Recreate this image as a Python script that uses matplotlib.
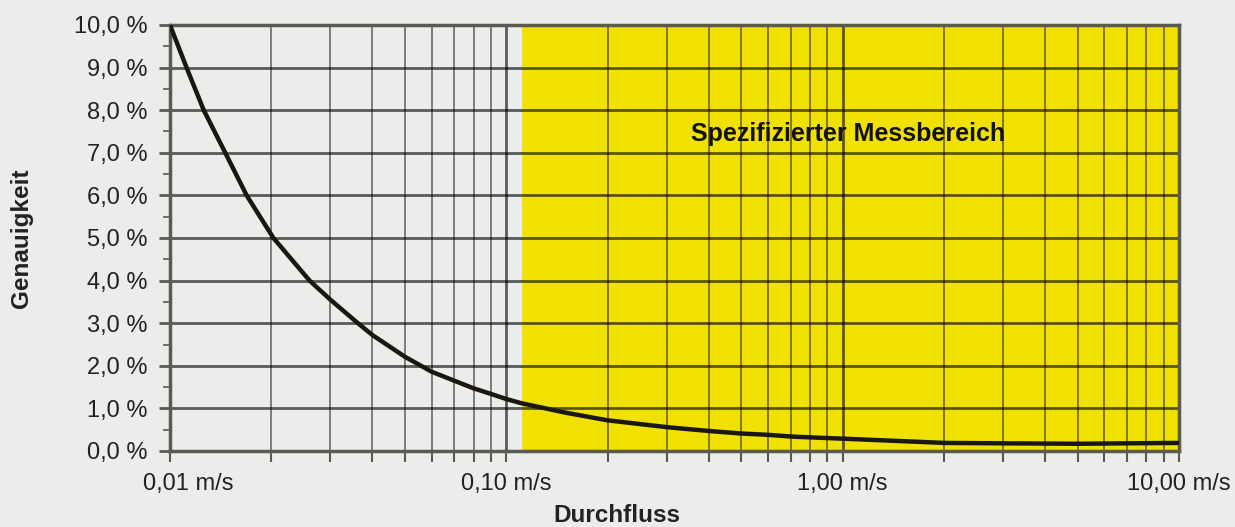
import matplotlib
matplotlib.use("Agg")
import matplotlib.pyplot as plt
from matplotlib.ticker import FixedLocator, FuncFormatter, NullFormatter
from matplotlib.transforms import ScaledTranslation

plt.rcParams['font.family'] = ['Liberation Sans', 'DejaVu Sans']

# Durchfluss (m/s) and Genauigkeit (%)
flow = [0.01, 0.0112, 0.0126, 0.0146, 0.0169, 0.0203, 0.026, 0.03, 0.0362, 0.04,
        0.05, 0.06, 0.07, 0.08, 0.09, 0.1, 0.111, 0.15, 0.2, 0.3, 0.4, 0.5,
        0.6, 0.7, 0.8, 1.0, 2.0, 3.0, 5.0, 7.0, 10.0]
accuracy = [10.0, 9.0, 8.0, 7.0, 6.0, 5.0, 4.0, 3.55, 3.0, 2.72,
            2.21, 1.86, 1.65, 1.47, 1.34, 1.22, 1.12, 0.90, 0.72, 0.56, 0.47, 0.41,
            0.38, 0.34, 0.32, 0.29, 0.19, 0.18, 0.17, 0.18, 0.19]

range_start = 0.111   # start of the specified measuring range
range_end = 10.0
range_label = "Spezifizierter Messbereich"

x_ticks = [0.01, 0.1, 1.0, 10.0]
x_tick_labels = ["0,01 m/s", "0,10 m/s", "1,00 m/s", "10,00 m/s"]
y_ticks = [0, 1, 2, 3, 4, 5, 6, 7, 8, 9, 10]

bg = "#ececea"
frame = "#5a5a54"
text_col = "#222222"

fig = plt.figure(figsize=(12.35, 5.27), dpi=100, facecolor=bg)
ax = fig.add_axes([170 / 1235, 76 / 527, 1009 / 1235, 426 / 527])
ax.set_facecolor(bg)

ax.axvspan(range_start, range_end, color="#f0e100", lw=0, zorder=0.5)
ax.plot(flow, accuracy, color="#1a1712", lw=3.2, solid_capstyle="butt",
        solid_joinstyle="round", zorder=5)

ax.set_xscale("log")
ax.set_xlim(0.01, 10.0)
ax.set_ylim(0, 10)

ax.xaxis.set_major_locator(FixedLocator(x_ticks))
ax.xaxis.set_major_formatter(FuncFormatter(lambda v, p: x_tick_labels[p] if p is not None and p < len(x_tick_labels) else ""))
minors = [m * d for d in [0.01, 0.1, 1.0] for m in range(2, 10)]
ax.xaxis.set_minor_locator(FixedLocator(minors))
ax.xaxis.set_minor_formatter(NullFormatter())

ax.yaxis.set_major_locator(FixedLocator(y_ticks))
ax.yaxis.set_major_formatter(FuncFormatter(lambda v, p: f"{v:.1f} %".replace(".", ",")))
ax.yaxis.set_minor_locator(FixedLocator([y + 0.5 for y in y_ticks[:-1]]))

ax.grid(True, which="major", axis="both", color="black", alpha=0.62, lw=2.0)
ax.grid(True, which="minor", axis="x", color="black", alpha=0.55, lw=1.2)

ax.tick_params(axis="x", which="both", direction="out", length=8, width=1.5,
               color=frame, labelsize=17, labelcolor=text_col, pad=8)
ax.tick_params(axis="y", which="major", direction="out", length=8, width=2,
               color=frame, labelsize=17, labelcolor=text_col, pad=8)
ax.tick_params(axis="y", which="minor", direction="out", length=5, width=1.2, color=frame)

for s in ax.spines.values():
    s.set_color(frame)
    s.set_linewidth(2.5)

# first x label sits a bit to the right of its tick
fig.canvas.draw()
first = ax.get_xticklabels()[0]
first.set_transform(first.get_transform() + ScaledTranslation(18 / 100, 0, fig.dpi_scale_trans))

ax.text(1.04, 7.45, range_label, ha="center", va="center", fontsize=18,
        fontweight="bold", color="#111111", zorder=6)

fig.text(617 / 1235, 1 - 515 / 527, "Durchfluss", ha="center", va="center",
         fontsize=17.5, fontweight="bold", color=text_col)
fig.text(21 / 1235, 1 - 238 / 527, "Genauigkeit", ha="center", va="center",
         rotation=90, fontsize=17.5, fontweight="bold", color=text_col)

fig.savefig("out.png", dpi=100, facecolor=bg)
